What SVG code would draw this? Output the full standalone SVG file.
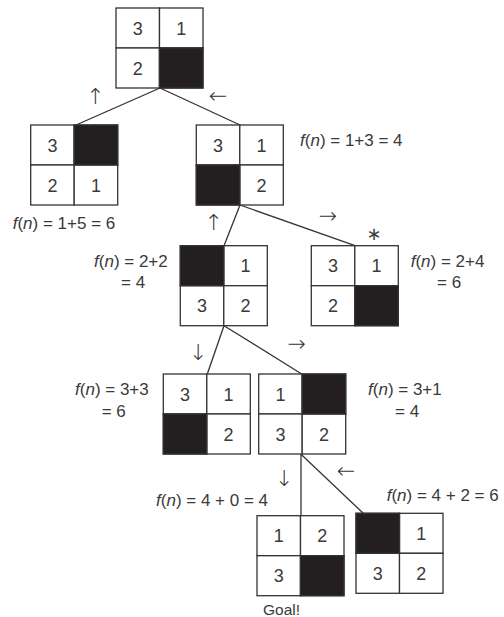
<svg xmlns="http://www.w3.org/2000/svg" width="504" height="617" viewBox="0 0 504 617">
<style>
.bg{fill:#fff}
.cell{fill:#fff;stroke:#333;stroke-width:1.3}
.blk{fill:#231f20;stroke:#333;stroke-width:1.3}
.num{font-family:"Liberation Sans",Arial,sans-serif;font-size:18px;fill:#3a3a3a;text-anchor:middle}
.lbl{font-family:"Liberation Sans",Arial,sans-serif;font-size:17px;fill:#3a3a3a}
.arr{font-family:"DejaVu Sans",sans-serif;font-weight:200;font-size:22px;fill:#333;text-anchor:middle}
.ast{font-family:"DejaVu Sans",sans-serif;font-size:18px;fill:#444;text-anchor:middle}
.edge{stroke:#333;stroke-width:1.3;fill:none}
.i{font-style:italic}
</style>
<defs>
<g id="grid">
<rect class="cell" x="0" y="0" width="43.5" height="40"/>
<rect class="cell" x="43.5" y="0" width="43.5" height="40"/>
<rect class="cell" x="0" y="40" width="43.5" height="40"/>
<rect class="cell" x="43.5" y="40" width="43.5" height="40"/>
</g>
</defs>
<rect class="bg" x="0" y="0" width="504" height="617"/>
<g id="connectors">
<line class="edge" x1="160" y1="88" x2="76" y2="125"/>
<line class="edge" x1="160" y1="88" x2="240" y2="125"/>
<line class="edge" x1="240" y1="205" x2="224" y2="245.7"/>
<line class="edge" x1="240" y1="205" x2="355" y2="245.7"/>
<line class="edge" x1="224" y1="325.7" x2="207.3" y2="374"/>
<line class="edge" x1="224" y1="325.7" x2="301.7" y2="374"/>
<line class="edge" x1="301" y1="454.3" x2="301" y2="515.7"/>
<line class="edge" x1="301" y1="454.3" x2="364" y2="514"/>
</g>
<g id="n0" transform="translate(116,8)">
<use href="#grid"/><rect class="blk" x="43.5" y="40" width="43.5" height="40"/>
<text class="num" x="21.75" y="26.5">3</text><text class="num" x="65.25" y="26.5">1</text><text class="num" x="21.75" y="66.5">2</text>
</g>
<g id="n1" transform="translate(30.7,125)">
<use href="#grid"/><rect class="blk" x="43.5" y="0" width="43.5" height="40"/>
<text class="num" x="21.75" y="26.5">3</text><text class="num" x="21.75" y="66.5">2</text><text class="num" x="65.25" y="66.5">1</text>
</g>
<g id="n2" transform="translate(196.3,125)">
<use href="#grid"/><rect class="blk" x="0" y="40" width="43.5" height="40"/>
<text class="num" x="21.75" y="26.5">3</text><text class="num" x="65.25" y="26.5">1</text><text class="num" x="65.25" y="66.5">2</text>
</g>
<g id="n3" transform="translate(180.3,245.7)">
<use href="#grid"/><rect class="blk" x="0" y="0" width="43.5" height="40"/>
<text class="num" x="65.25" y="26.5">1</text><text class="num" x="21.75" y="66.5">3</text><text class="num" x="65.25" y="66.5">2</text>
</g>
<g id="n4" transform="translate(311.3,245.7)">
<use href="#grid"/><rect class="blk" x="43.5" y="40" width="43.5" height="40"/>
<text class="num" x="21.75" y="26.5">3</text><text class="num" x="65.25" y="26.5">1</text><text class="num" x="21.75" y="66.5">2</text>
</g>
<g id="n5" transform="translate(163.3,374)">
<use href="#grid"/><rect class="blk" x="0" y="40" width="43.5" height="40"/>
<text class="num" x="21.75" y="26.5">3</text><text class="num" x="65.25" y="26.5">1</text><text class="num" x="65.25" y="66.5">2</text>
</g>
<g id="n6" transform="translate(258.7,374)">
<use href="#grid"/><rect class="blk" x="43.5" y="0" width="43.5" height="40"/>
<text class="num" x="21.75" y="26.5">1</text><text class="num" x="21.75" y="66.5">3</text><text class="num" x="65.25" y="66.5">2</text>
</g>
<g id="n7" transform="translate(257,515.7)">
<use href="#grid"/><rect class="blk" x="43.5" y="40" width="43.5" height="40"/>
<text class="num" x="21.75" y="26.5">1</text><text class="num" x="65.25" y="26.5">2</text><text class="num" x="21.75" y="66.5">3</text>
</g>
<g id="n8" transform="translate(356,513.3)">
<use href="#grid"/><rect class="blk" x="0" y="0" width="43.5" height="40"/>
<text class="num" x="65.25" y="26.5">1</text><text class="num" x="21.75" y="66.5">3</text><text class="num" x="65.25" y="66.5">2</text>
</g>
<g id="labels">
<text class="lbl" x="300" y="145.7"><tspan class="i">f</tspan>(<tspan class="i">n</tspan>) = 1+3 = 4</text>
<text class="lbl" x="12.7" y="229.3"><tspan class="i">f</tspan>(<tspan class="i">n</tspan>) = 1+5 = 6</text>
<text class="lbl" x="94" y="266.7"><tspan class="i">f</tspan>(<tspan class="i">n</tspan>) = 2+2</text>
<text class="lbl" x="121" y="288.3">= 4</text>
<text class="lbl" x="410.7" y="266.7"><tspan class="i">f</tspan>(<tspan class="i">n</tspan>) = 2+4</text>
<text class="lbl" x="437" y="288.3">= 6</text>
<text class="lbl" x="75" y="395"><tspan class="i">f</tspan>(<tspan class="i">n</tspan>) = 3+3</text>
<text class="lbl" x="101.7" y="416.7">= 6</text>
<text class="lbl" x="368" y="395"><tspan class="i">f</tspan>(<tspan class="i">n</tspan>) = 3+1</text>
<text class="lbl" x="395" y="416.7">= 4</text>
<text class="lbl" x="156" y="506"><tspan class="i">f</tspan>(<tspan class="i">n</tspan>) = 4 + 0 = 4</text>
<text class="lbl" x="386.7" y="501"><tspan class="i">f</tspan>(<tspan class="i">n</tspan>) = 4 + 2 = 6</text>
<text class="lbl" x="263" y="615" style="font-size:15.5px">Goal!</text>
<text class="arr" x="95.3" y="104">↑</text>
<text class="arr" x="218" y="103">←</text>
<text class="arr" x="213.5" y="230">↑</text>
<text class="arr" x="328" y="223">→</text>
<text class="ast" x="374" y="240">∗</text>
<text class="arr" x="198" y="360">↓</text>
<text class="arr" x="296.7" y="351">→</text>
<text class="arr" x="284" y="486">↓</text>
<text class="arr" x="346" y="478">←</text>
</g>
</svg>
